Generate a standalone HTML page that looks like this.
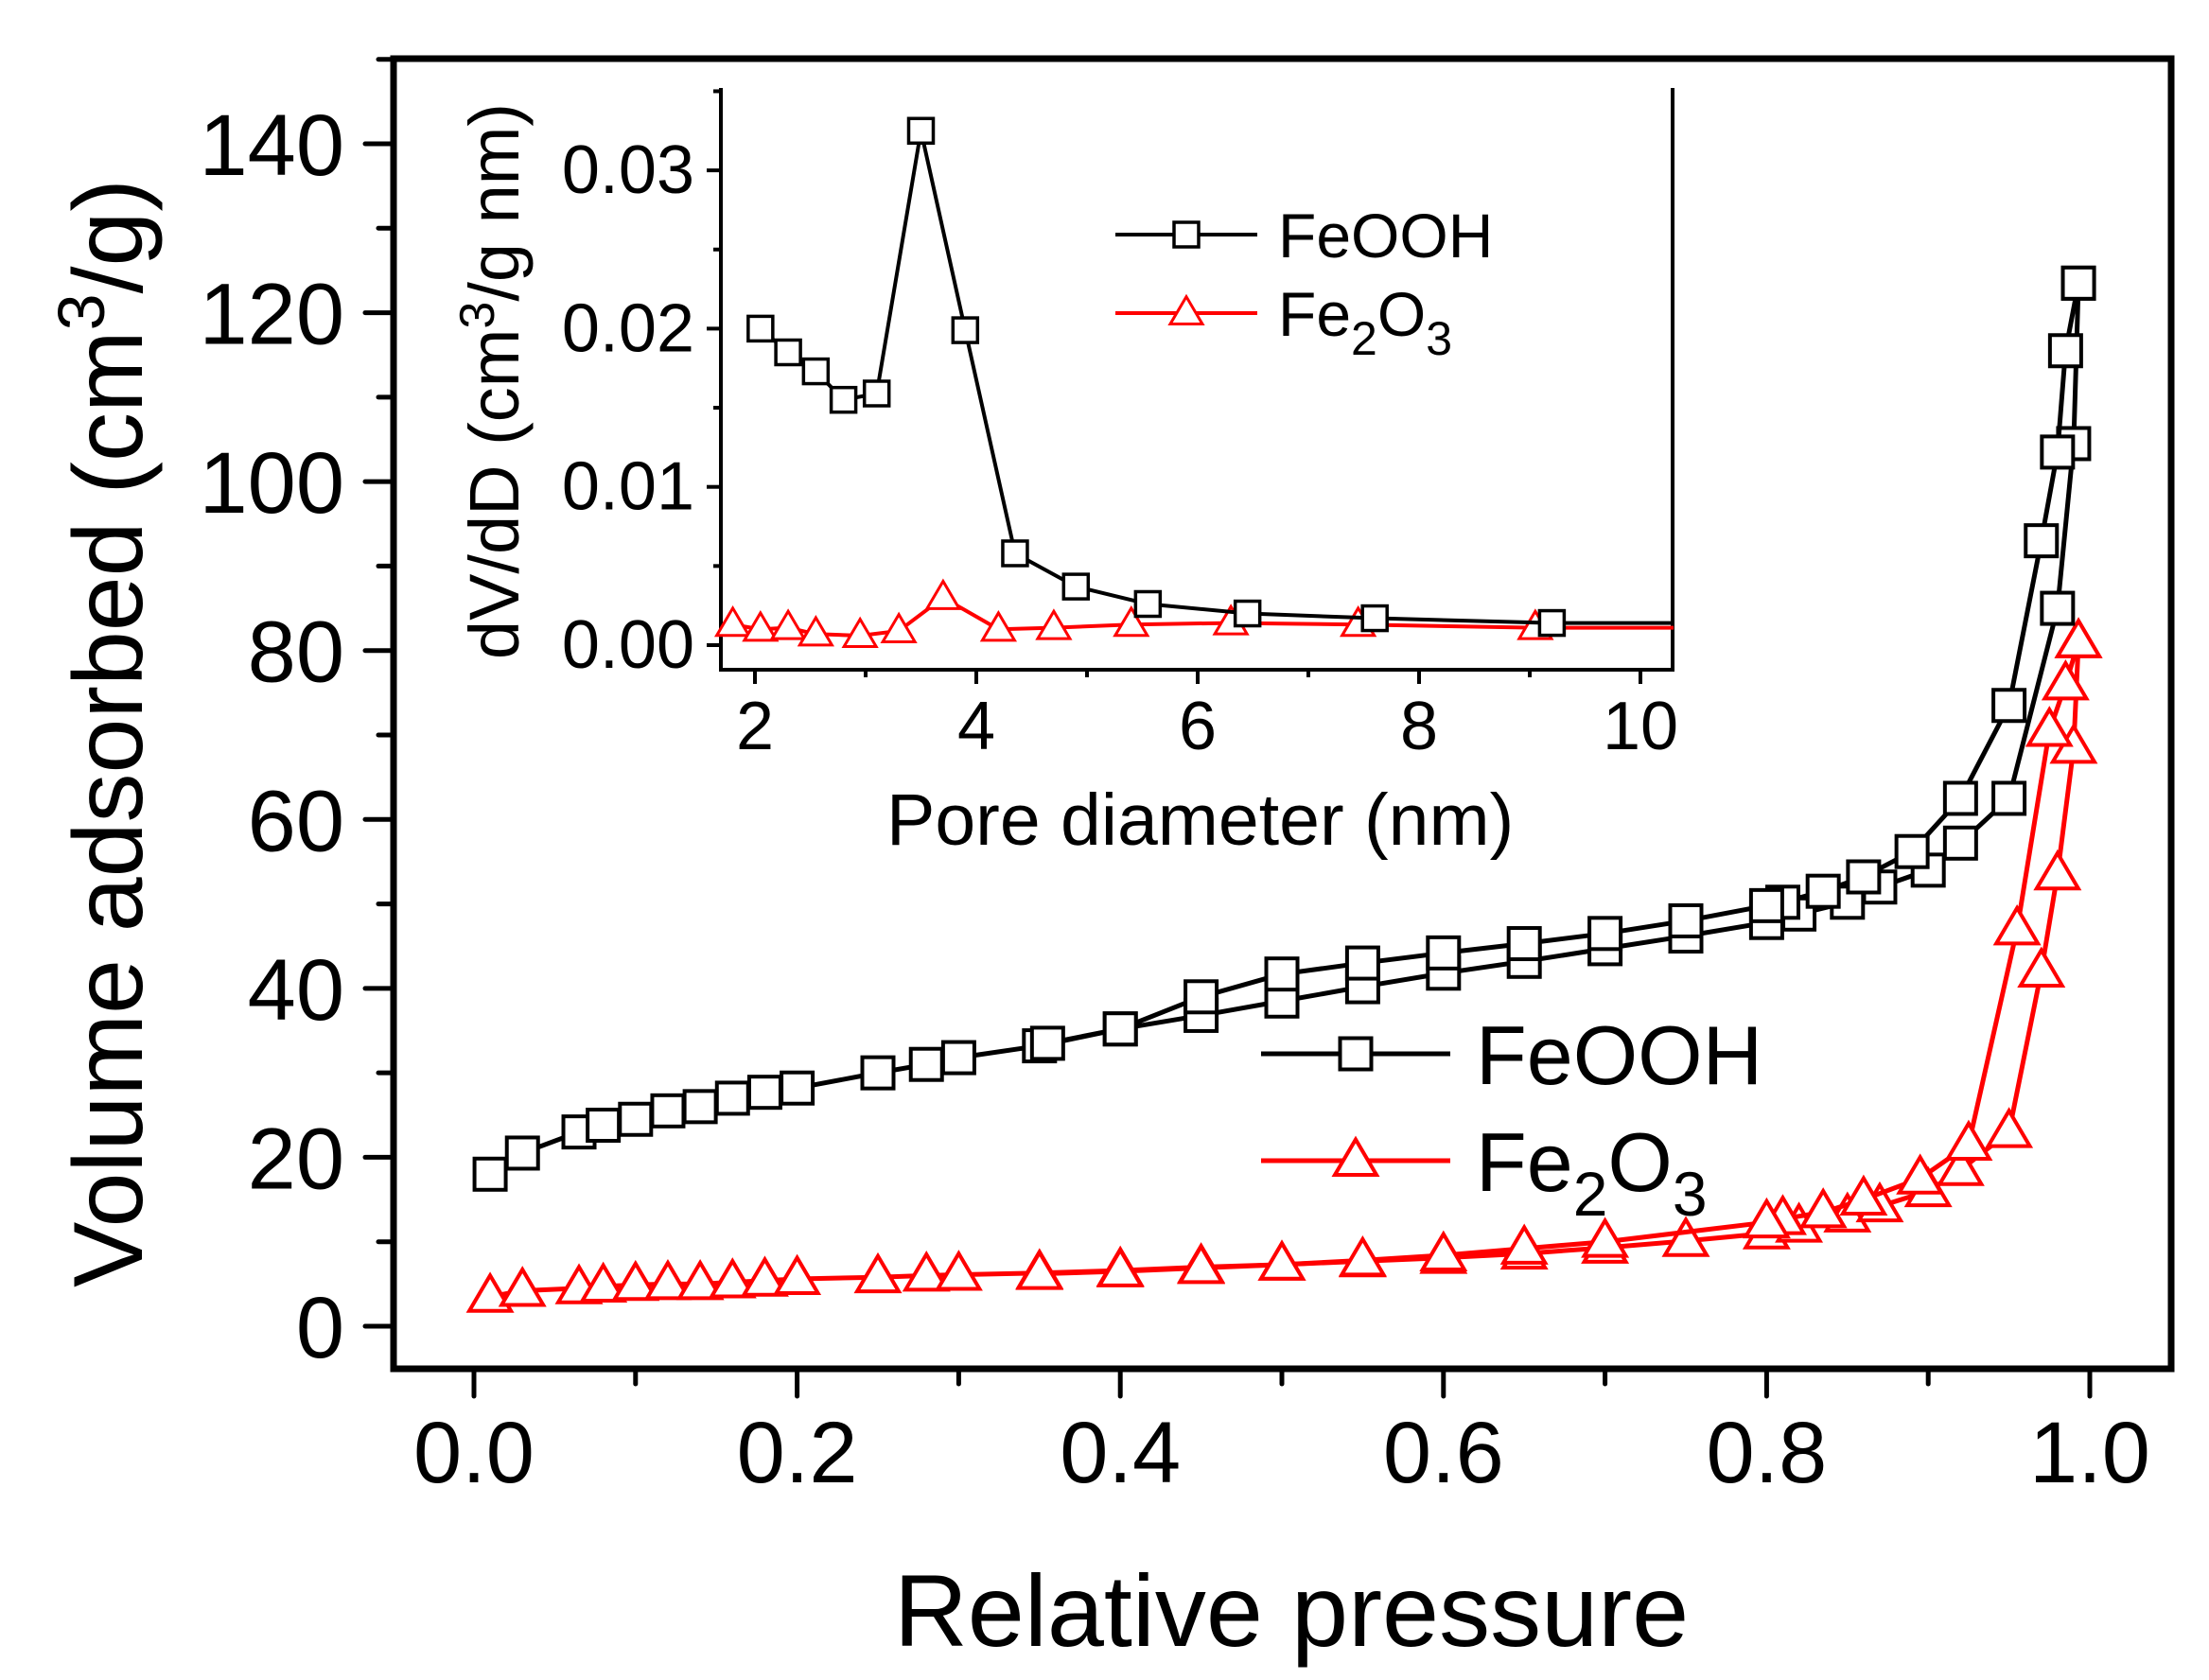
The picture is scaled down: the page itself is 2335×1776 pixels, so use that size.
<!DOCTYPE html>
<html><head><meta charset="utf-8"><style>
html,body{margin:0;padding:0;background:#fff}
svg{display:block;font-family:"Liberation Sans",Arial,sans-serif}
</style></head><body>
<svg id="chart" width="2335" height="1776" viewBox="0 0 2335 1776" xmlns="http://www.w3.org/2000/svg">
<g id="main"></g>
<g id="inset"></g>
</svg>
<script>
// ---- main isotherm data ----
const feoohAdsP = [0.01,0.03,0.065,0.08,0.1,0.12,0.14,0.16,0.18,0.2,0.25,0.28,0.3,0.35,0.4,0.45,0.5,0.55,0.6,0.65,0.7,0.75,0.8,0.82,0.85,0.87,0.9,0.92,0.95,0.98,0.99,0.993];
const feoohAdsV = [18,20.5,23,23.8,24.5,25.5,26,27,27.7,28.2,30,31,31.8,33.2,35.2,36.8,38.5,40.2,41.8,43.2,44.7,46.2,47.8,48.8,50.2,52,54,57.2,62.5,85,104.5,123.5];
const feoohDesP = [0.993,0.985,0.98,0.97,0.95,0.92,0.89,0.86,0.835,0.81,0.8,0.75,0.7,0.65,0.6,0.55,0.5,0.45,0.4,0.355];
const feoohDesV = [123.5,115.5,103.5,93,73.5,62.5,56.2,53.2,51.5,50.2,49.8,48,46.5,45.3,44.2,43,41.7,39,35.2,33.5];
const fe2o3AdsP = [0.01,0.03,0.065,0.08,0.1,0.12,0.14,0.16,0.18,0.2,0.25,0.28,0.3,0.35,0.4,0.45,0.5,0.55,0.6,0.65,0.7,0.75,0.8,0.82,0.85,0.87,0.9,0.92,0.95,0.97,0.98,0.99,0.993];
const fe2o3AdsV = [3.5,4.2,4.5,4.7,4.9,5,5,5.2,5.4,5.6,5.8,6,6.1,6.3,6.6,7,7.3,7.7,8.1,8.6,9.3,10.1,11,11.8,13,14.2,16,18.5,23,42,53.5,68.5,81];
const fe2o3DesP = [0.993,0.985,0.975,0.955,0.925,0.895,0.86,0.835,0.81,0.8,0.7,0.65,0.6,0.55,0.5,0.45,0.4,0.35];
const fe2o3DesV = [81,76,70.5,47,21.5,17.5,15,13.5,12.7,12.3,10,9.2,8.4,7.8,7.3,6.9,6.5,6.2];
const mainXTicks = [0,0.2,0.4,0.6,0.8,1.0];
const mainXLabels = ["0.0","0.2","0.4","0.6","0.8","1.0"];
const mainYTicks = [0,20,40,60,80,100,120,140];
// ---- inset PSD data ----
const psdFeoohD = [2.05,2.3,2.55,2.8,3.1,3.5,3.9,4.35,4.9,5.55,6.45,7.6,9.2,10.3];
const psdFeoohV = [0.020,0.0185,0.0173,0.0155,0.0159,0.0325,0.0199,0.0058,0.0037,0.0026,0.0020,0.0017,0.0014,0.0014];
const psdFe2o3D = [1.8,2.05,2.3,2.55,2.95,3.3,3.7,4.2,4.7,5.4,6.3,7.45,9.05,10.3];
const psdFe2o3V = [0.0013,0.0010,0.0011,0.0007,0.0006,0.0009,0.0030,0.0010,0.0011,0.0013,0.0014,0.0013,0.0011,0.0011];
const insetXTicks = [2,4,6,8,10];
const insetYTicks = [0,0.01,0.02,0.03];
const insetYLabels = ["0.00","0.01","0.02","0.03"];

const NS="http://www.w3.org/2000/svg";
function mk(parent,tag,attrs,text){const e=document.createElementNS(NS,tag);for(const k in attrs)e.setAttribute(k,attrs[k]);if(text!==undefined)e.textContent=text;parent.appendChild(e);return e;}
const main=document.getElementById('main'), inset=document.getElementById('inset');

// main axes
const mx=v=>501+(2209-501)*v;
const my=v=>1402-(1402-152)*v/140;
const fr=mk(main,'rect',{x:416,y:62,width:1879,height:1385,fill:'none',stroke:'#000','stroke-width':7});

mainXTicks.forEach((t,i)=>{
  const l=mk(main,'line',{x1:mx(t),x2:mx(t),y1:1447,y2:1476,stroke:'#000','stroke-width':5,'stroke-linecap':'round'});
  
  const tx=mk(main,'text',{x:mx(t),y:1567,'font-size':92,'text-anchor':'middle'},mainXLabels[i]);
  
  if(i<5){const m=mk(main,'line',{x1:mx(t+0.1),x2:mx(t+0.1),y1:1447,y2:1463,stroke:'#000','stroke-width':5,'stroke-linecap':'round'});
  }
});
mainYTicks.forEach((t,i)=>{
  const l=mk(main,'line',{x1:386,x2:416,y1:my(t),y2:my(t),stroke:'#000','stroke-width':5,'stroke-linecap':'round'});
  
  const tx=mk(main,'text',{x:364,y:my(t)+33,'font-size':92,'text-anchor':'end'},String(t));
  
  const m=mk(main,'line',{x1:400,x2:416,y1:my(t+10),y2:my(t+10),stroke:'#000','stroke-width':5,'stroke-linecap':'round'});
  
});
const xt=mk(main,'text',{x:1365,y:1740,'font-size':108,'text-anchor':'middle'},'Relative pressure');

const yt=mk(main,'text',{transform:'translate(150,775) rotate(-90)','font-size':104,'text-anchor':'middle'});

yt.innerHTML='Volume adsorbed (cm<tspan dy="-40" font-size="70">3</tspan><tspan dy="40">/g)</tspan>';

function sq(g,x,y,s,color,sw,name){const r=mk(g,'rect',{x:x-s/2,y:y-s/2,width:s,height:s,fill:'#fff',stroke:color,'stroke-width':sw});}
function tri(g,x,y,s,color,sw,name){const h=s*0.85;const p=mk(g,'polygon',{points:`${x},${y-h*0.6} ${x-s/2},${y+h*0.4} ${x+s/2},${y+h*0.4}`,fill:'#fff',stroke:color,'stroke-width':sw});}
function series(g,xs,ys,fx,fy,color,sw,marker,ms,msw,name,skipLast){
  const pl=mk(g,'polyline',{points:xs.map((v,i)=>fx(v)+','+fy(ys[i])).join(' '),fill:'none',stroke:color,'stroke-width':sw,'stroke-linejoin':'round'});
  
  xs.forEach((v,i)=>{if(skipLast&&i===xs.length-1)return;marker(g,fx(v),fy(ys[i]),ms,color,msw,name+'-point');});
}
const red='#ff0000';
series(main,fe2o3AdsP,fe2o3AdsV,mx,my,red,5,tri,44,4,'fe2o3-adsorption');
series(main,fe2o3DesP,fe2o3DesV,mx,my,red,5,tri,44,4,'fe2o3-desorption');
series(main,feoohAdsP,feoohAdsV,mx,my,'#000',5,sq,33,4,'feooh-adsorption');
series(main,feoohDesP,feoohDesV,mx,my,'#000',5,sq,33,4,'feooh-desorption');
// main legend
let l1=mk(main,'line',{x1:1333,x2:1533,y1:1114,y2:1114,stroke:'#000','stroke-width':5});
sq(main,1433,1114,33,'#000',4,'legend-feooh-marker');
let lt1=mk(main,'text',{x:1560,y:1146,'font-size':88},'FeOOH');
let l2=mk(main,'line',{x1:1333,x2:1533,y1:1227,y2:1227,stroke:red,'stroke-width':5});
tri(main,1433,1227,44,red,4,'legend-fe2o3-marker');
let lt2=mk(main,'text',{x:1560,y:1259,'font-size':88});
lt2.innerHTML='Fe<tspan dy="26" font-size="66">2</tspan><tspan dy="-26">O</tspan><tspan dy="26" font-size="66">3</tspan>';

// inset axes
const ix=v=>798+117*(v-2);
const iy=v=>682-167.3*v/0.01;
const ia=mk(inset,'polyline',{points:'762,93 762,708 1768,708 1768,93',fill:'none',stroke:'#000','stroke-width':4});

insetXTicks.forEach((t,i)=>{
  const l=mk(inset,'line',{x1:ix(t),x2:ix(t),y1:708,y2:723,stroke:'#000','stroke-width':4});
  
  if(i<4){const m=mk(inset,'line',{x1:ix(t+1),x2:ix(t+1),y1:708,y2:716,stroke:'#000','stroke-width':4});
  }
  const tx=mk(inset,'text',{x:ix(t),y:792,'font-size':72,'text-anchor':'middle'},String(t));
  
});
insetYTicks.forEach((t,i)=>{
  const l=mk(inset,'line',{x1:747,x2:762,y1:iy(t),y2:iy(t),stroke:'#000','stroke-width':4});
  
  const m=mk(inset,'line',{x1:754,x2:762,y1:iy(t+0.005),y2:iy(t+0.005),stroke:'#000','stroke-width':4});
  
  const tx=mk(inset,'text',{x:734,y:iy(t)+24,'font-size':72,'text-anchor':'end'},insetYLabels[i]);
  
});
const ixt=mk(inset,'text',{x:937,y:893,'font-size':77},'Pore diameter (nm)');

const iyt=mk(inset,'text',{transform:'translate(548,403) rotate(-90)','font-size':74,'text-anchor':'middle'});

iyt.innerHTML='dV/dD (cm<tspan dy="-26" font-size="52">3</tspan><tspan dy="26">/g nm)</tspan>';
series(inset,psdFe2o3D,psdFe2o3V,ix,iy,red,4,tri,34,3,'psd-fe2o3',true);
series(inset,psdFeoohD,psdFeoohV,ix,iy,'#000',4,sq,26,3.5,'psd-feooh',true);
// inset legend
let il1=mk(inset,'line',{x1:1179,x2:1329,y1:248,y2:248,stroke:'#000','stroke-width':4});
sq(inset,1254,248,26,'#000',3.5,'inset-legend-feooh-marker');
let it1=mk(inset,'text',{x:1351,y:272,'font-size':66},'FeOOH');
let il2=mk(inset,'line',{x1:1179,x2:1329,y1:331,y2:331,stroke:red,'stroke-width':4});
tri(inset,1254,331,34,red,3,'inset-legend-fe2o3-marker');
let it2=mk(inset,'text',{x:1351,y:355,'font-size':66});
it2.innerHTML='Fe<tspan dy="20" font-size="50">2</tspan><tspan dy="-20">O</tspan><tspan dy="20" font-size="50">3</tspan>';
</script>
</body></html>
